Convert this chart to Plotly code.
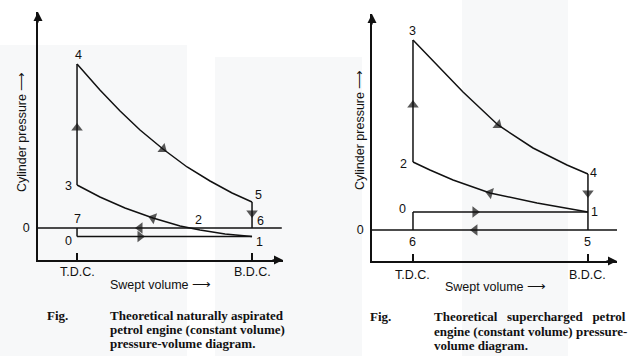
import plotly.graph_objects as go

# ---------------- data (swept volume: T.D.C.=0, B.D.C.=10; pressure: atmospheric=0) -------------
tick_vals = [0, 10]
tick_text = ["T.D.C.", "B.D.C."]

# Left: naturally aspirated
L_exp_x = [0, 1.31, 2.46, 3.6, 4.91, 6.29, 7.6, 8.86, 10]
L_exp_y = [16.4, 13.8, 11.7, 9.8, 7.9, 6.1, 4.7, 3.5, 2.6]
L_comp_x = [10, 8.46, 7.03, 5.89, 4.34, 2.74, 1.31, 0]
L_comp_y = [-0.85, -0.6, -0.2, 0.2, 1.0, 2.0, 3.1, 4.3]
L_lab = ["1", "2", "3", "4", "5", "6", "7", "0"]
L_lab_x = [10, 6.46, 0, 0, 10, 10, 0, 0]
L_lab_y = [-0.85, 0, 4.3, 16.4, 2.6, 0, 0, -0.85]
L_atm_x = [-2.23, 11.7]

# Right: supercharged
R_exp_x = [0, 1.37, 2.86, 4.86, 6.86, 8.8, 10]
R_exp_y = [19.0, 16.5, 13.8, 10.5, 8.2, 6.5, 5.6]
R_comp_x = [10, 8.69, 7.09, 4.4, 2.29, 0.97, 0]
R_comp_y = [1.8, 2.2, 2.7, 3.7, 5.0, 6.0, 6.8]
R_lab = ["1", "2", "3", "4", "5", "6", "0"]
R_lab_x = [10, 0, 0, 10, 10, 0, 0]
R_lab_y = [1.8, 6.8, 19.0, 5.6, 0, 0, 1.8]
R_atm_x = [-2.343, 11.7]

L_range_x = [-2.23, 11.77]
L_range_y = [-3.2, 21.6]
R_range_x = [-2.343, 11.66]
R_range_y = [-3.1, 21.6]

INK = "#111111"
LW = 1.5
fig = go.Figure()


def line(xs, ys, ax):
    fig.add_trace(go.Scatter(x=xs, y=ys, mode="lines", xaxis=ax[0], yaxis=ax[1],
                             line=dict(color=INK, width=LW), hoverinfo="skip",
                             showlegend=False, cliponaxis=False))


def arrow(x, y, dx, dy, ax):
    # dx, dy give the direction of travel (data units)
    e = 0.02
    fig.add_trace(go.Scatter(x=[x - dx * e, x], y=[y - dy * e, y], mode="markers",
                             xaxis=ax[0], yaxis=ax[1],
                             marker=dict(symbol="triangle-up", size=[0, 10], color=INK,
                                         angleref="previous", line=dict(width=0)),
                             hoverinfo="skip", showlegend=False, cliponaxis=False))


def curve_arrow(xs, ys, i, ax):
    arrow(xs[i], ys[i], xs[i + 1] - xs[i - 1], ys[i + 1] - ys[i - 1], ax)


# ---- left cycle ----
A = ("x", "y")
p = dict(zip(L_lab, zip(L_lab_x, L_lab_y)))
line(L_atm_x, [0, 0], A)
line(L_comp_x, L_comp_y, A)                       # 1 -> 2 -> 3
line([p["3"][0], p["4"][0]], [p["3"][1], p["4"][1]], A)   # 3 -> 4
line(L_exp_x, L_exp_y, A)                         # 4 -> 5
line([p["5"][0], p["6"][0]], [p["5"][1], p["6"][1]], A)   # 5 -> 6
line([p["7"][0], p["0"][0]], [p["7"][1], p["0"][1]], A)   # 7 -> 0
line([p["0"][0], p["1"][0]], [p["0"][1], p["1"][1]], A)   # 0 -> 1
curve_arrow(L_comp_x, L_comp_y, 4, A)
curve_arrow(L_exp_x, L_exp_y, 4, A)
arrow(0, 10.0, 0, 1, A)
arrow(10, 1.5, 0, -1, A)
arrow(3.6, 0, -1, 0, A)
arrow(3.6, -0.85, 1, 0, A)

# ---- right cycle ----
B = ("x2", "y2")
q = dict(zip(R_lab, zip(R_lab_x, R_lab_y)))
line(R_atm_x, [0, 0], B)
line(R_comp_x, R_comp_y, B)                       # 1 -> 2
line([q["2"][0], q["3"][0]], [q["2"][1], q["3"][1]], B)   # 2 -> 3
line(R_exp_x, R_exp_y, B)                         # 3 -> 4
line([q["4"][0], q["5"][0]], [q["4"][1], q["5"][1]], B)   # 4 -> 1 -> 5
line([q["6"][0], q["0"][0]], [q["6"][1], q["0"][1]], B)   # 6 -> 0
line([q["0"][0], q["1"][0]], [q["0"][1], q["1"][1]], B)   # 0 -> 1
curve_arrow(R_comp_x, R_comp_y, 3, B)
curve_arrow(R_exp_x, R_exp_y, 3, B)
arrow(0, 12.5, 0, 1, B)
arrow(10, 3.7, 0, -1, B)
arrow(3.54, 0, -1, 0, B)
arrow(3.54, 1.8, 1, 0, B)

# ---------------- layout ----------------
W, H = 640, 356
SANS = "Liberation Sans, Arial, sans-serif"
SERIF = "Liberation Serif, Times New Roman, serif"
FS = 12.5


def xax(dom, rng, anchor):
    return dict(domain=dom, range=rng, anchor=anchor, showgrid=False, zeroline=False,
                showline=True, linecolor=INK, linewidth=LW, tickvals=tick_vals,
                ticktext=tick_text, ticks="inside", ticklen=7, tickwidth=LW,
                tickcolor=INK, showticklabels=False, fixedrange=True)


def yax(dom, rng, anchor):
    return dict(domain=dom, range=rng, anchor=anchor, showgrid=False, zeroline=False,
                showline=True, linecolor=INK, linewidth=LW, tickvals=[0],
                ticktext=["0"], ticks="", ticklabelstandoff=4,
                tickfont=dict(family=SANS, size=FS, color=INK), fixedrange=True)


annotations = []
# tick labels on the swept-volume axes
for xr, yr, rng, ys in (("x", "y", L_range_y, -12), ("x2", "y2", R_range_y, -14)):
    for v, t in zip(tick_vals, tick_text):
        annotations.append(dict(x=v, y=rng[0], xref=xr, yref=yr, text=t, showarrow=False,
                                xanchor="center", yanchor="middle", yshift=ys,
                                font=dict(family=SANS, size=FS, color=INK)))

# point labels
L_off = {"1": (7, -5), "2": (8, 8), "3": (-9, -1), "4": (1, 9), "5": (6, 7),
         "6": (8, 7), "7": (0, 9), "0": (-9, -4)}
for t, x, y in zip(L_lab, L_lab_x, L_lab_y):
    annotations.append(dict(x=x, y=y, xref="x", yref="y", text=t, showarrow=False,
                            xanchor="center", yanchor="middle",
                            xshift=L_off[t][0], yshift=L_off[t][1],
                            font=dict(family=SANS, size=FS, color=INK)))
R_off = {"1": (7, 0), "2": (-9, -2), "3": (0, 9), "4": (6, 1), "5": (0, -12),
         "6": (0, -12), "0": (-10, 3)}
for t, x, y in zip(R_lab, R_lab_x, R_lab_y):
    annotations.append(dict(x=x, y=y, xref="x2", yref="y2", text=t, showarrow=False,
                            xanchor="center", yanchor="middle",
                            xshift=R_off[t][0], yshift=R_off[t][1],
                            font=dict(family=SANS, size=FS, color=INK)))

# axis arrowheads
for xr, yr, xr_rng, yr_rng in (("x", "y", L_range_x, L_range_y),
                               ("x2", "y2", R_range_x, R_range_y)):
    annotations.append(dict(x=xr_rng[1], y=yr_rng[0], xref=xr, yref=yr, ax=-12, ay=0,
                            text="", showarrow=True, arrowhead=2, arrowsize=1.2,
                            arrowwidth=LW, arrowcolor=INK))
    annotations.append(dict(x=xr_rng[0], y=yr_rng[1], xref=xr, yref=yr, ax=0, ay=12,
                            text="", showarrow=True, arrowhead=2, arrowsize=1.2,
                            arrowwidth=LW, arrowcolor=INK))


def px(xp, yp):
    return xp / W, 1 - yp / H


# axis titles
for cx, cy in ((160, 285), (495, 287)):
    x, y = px(cx, cy)
    annotations.append(dict(x=x, y=y, xref="paper", yref="paper", showarrow=False,
                            xanchor="center", yanchor="middle",
                            text="Swept volume \u27f6",
                            font=dict(family=SANS, size=FS, color=INK)))
for cx, cy in ((22, 132), (360, 130)):
    x, y = px(cx, cy)
    annotations.append(dict(x=x, y=y, xref="paper", yref="paper", showarrow=False,
                            xanchor="center", yanchor="middle",
                            text="Cylinder pressure \u27f6", textangle=-90,
                            font=dict(family=SANS, size=FS, color=INK)))

# captions
NB = "\u00a0"
caps = [
    (57, 315, "Fig."), (108, 315, "Theoretical naturally aspirated"),
    (108, 329, "petrol engine (constant volume)"), (108, 343, "pressure-volume diagram."),
    (380, 316, "Fig."),
    (432, 316, "Theoretical" + NB * 2 + " supercharged" + NB * 2 + " petrol"),
    (432, 331, "engine (constant volume) pressure-"), (432, 345, "volume diagram."),
]
for cx, cy, t in caps:
    x, y = px(cx, cy)
    anchor = "center" if t == "Fig." else "left"
    annotations.append(dict(x=x, y=y, xref="paper", yref="paper", showarrow=False,
                            text="<b>" + t + "</b>", xanchor=anchor, yanchor="middle",
                            font=dict(family=SERIF, size=13, color=INK)))

# faint scan watermark
shapes = []
for x0, y0, x1, y1 in ((0, 45, 187, 356), (215, 57, 362, 356), (462, 0, 568, 356)):
    shapes.append(dict(type="rect", xref="paper", yref="paper", x0=x0 / W, x1=x1 / W,
                       y0=1 - y1 / H, y1=1 - y0 / H, fillcolor="#f7f8f9",
                       line=dict(width=0), layer="below"))

fig.update_layout(
    width=W, height=H, margin=dict(l=0, r=0, t=0, b=0),
    paper_bgcolor="white", plot_bgcolor="rgba(0,0,0,0)",
    xaxis=xax([38 / W, 283 / W], L_range_x, "y"),
    yaxis=yax([1 - 260 / H, 1 - 12 / H], L_range_y, "x"),
    xaxis2=xax([372 / W, 617 / W], R_range_x, "y2"),
    yaxis2=yax([1 - 261 / H, 1 - 14 / H], R_range_y, "x2"),
    annotations=annotations, shapes=shapes, showlegend=False,
)

fig.write_html("out.html", config={"displayModeBar": False},
               post_script="document.body.style.margin='0';")
